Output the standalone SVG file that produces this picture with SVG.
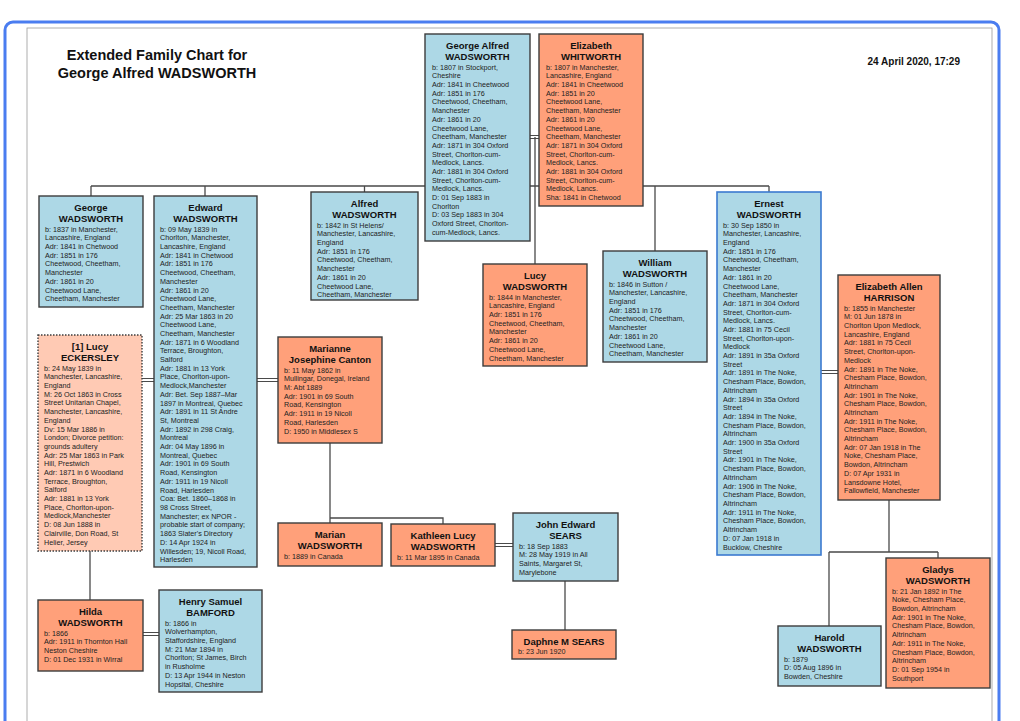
<svg xmlns="http://www.w3.org/2000/svg" width="1020" height="721" viewBox="0 0 1020 721">
<style>
.bx{stroke:#3c3c3c;stroke-width:1.4}
.bl{fill:#add8e6}
.sa{fill:#ffa07a}
.lt{fill:#ffcab4;stroke-dasharray:1.5 1.5}
.sel{stroke:#3b7ad0;stroke-width:1.6}
.n{font-family:"Liberation Sans",Arial,sans-serif;font-size:9.5px;font-weight:bold;fill:#111;text-anchor:middle}
.t{font-family:"Liberation Sans",Arial,sans-serif;font-size:7.2px;fill:#222}
.c{fill:none;stroke:#4a4a4a;stroke-width:1.3}
.m{fill:none;stroke:#4a4a4a;stroke-width:1}
.ti{font-family:"Liberation Sans",Arial,sans-serif;font-size:14.5px;font-weight:bold;fill:#111;text-anchor:middle}
</style>
<rect x="0" y="0" width="1020" height="721" fill="#ffffff"/>
<rect x="5" y="22" width="994" height="720" rx="8" fill="none" stroke="#4a7df0" stroke-width="3"/>
<rect x="27" y="28" width="965" height="720" fill="none" stroke="#9a9a9a" stroke-width="0.8"/>
<g id="title">
<text class="ti" x="157" y="60">Extended Family Chart for</text>
<text class="ti" x="157" y="78">George Alfred WADSWORTH</text>
<text x="960" y="65" style="font-family:'Liberation Sans',Arial,sans-serif;font-size:10px;font-weight:bold;fill:#111" text-anchor="end">24 April 2020, 17:29</text>
</g>
<g id="connectors">
<path class="c" d="M91,186H769M91,186V196M205,186V196M364.5,186V192M535,137V264M655,186V251M769,186V192"/>
<path class="m" d="M530,135.5H539M530,138.5H539"/>
<path class="m" d="M142,378.5H154M142,381.5H154M257,378.5H278M257,381.5H278"/>
<path class="c" d="M90,551V600"/>
<path class="m" d="M143,632.5H159M143,635.5H159"/>
<path class="c" d="M330,443V523M330,518H443V524"/>
<path class="m" d="M495,543.5H513M495,546.5H513"/>
<path class="c" d="M565,581V630"/>
<path class="m" d="M821,370.5H838M821,373.5H838"/>
<path class="c" d="M889,500V552M829,552H938M829,552V626M938,552V558"/>
</g>
<g id="n-george-alfred" transform="translate(425,34)">
<rect class="bx bl" width="105" height="207"/>
<text class="n" x="52.5" y="14.5">George Alfred</text>
<text class="n" x="52.5" y="25.5">WADSWORTH</text>
<text class="t" y="35.6"><tspan x="7" dy="0">b: 1807 in Stockport,</tspan><tspan x="7" dy="8.7">Cheshire</tspan><tspan x="7" dy="8.7">Adr: 1841 in Cheetwood</tspan><tspan x="7" dy="8.7">Adr: 1851 in 176</tspan><tspan x="7" dy="8.7">Cheetwood, Cheetham,</tspan><tspan x="7" dy="8.7">Manchester</tspan><tspan x="7" dy="8.7">Adr: 1861 in 20</tspan><tspan x="7" dy="8.7">Cheetwood Lane,</tspan><tspan x="7" dy="8.7">Cheetham, Manchester</tspan><tspan x="7" dy="8.7">Adr: 1871 in 304 Oxford</tspan><tspan x="7" dy="8.7">Street, Chorlton-cum-</tspan><tspan x="7" dy="8.7">Medlock, Lancs.</tspan><tspan x="7" dy="8.7">Adr: 1881 in 304 Oxford</tspan><tspan x="7" dy="8.7">Street, Chorlton-cum-</tspan><tspan x="7" dy="8.7">Medlock, Lancs.</tspan><tspan x="7" dy="8.7">D: 01 Sep 1883 in</tspan><tspan x="7" dy="8.7">Chorlton</tspan><tspan x="7" dy="8.7">D: 03 Sep 1883 in 304</tspan><tspan x="7" dy="8.7">Oxford Street, Chorlton-</tspan><tspan x="7" dy="8.7">cum-Medlock, Lancs.</tspan></text>
</g>
<g id="n-elizabeth-whitworth" transform="translate(539,34)">
<rect class="bx sa" width="104" height="172"/>
<text class="n" x="52" y="14.5">Elizabeth</text>
<text class="n" x="52" y="25.5">WHITWORTH</text>
<text class="t" y="35.6"><tspan x="7" dy="0">b: 1807 in Manchester,</tspan><tspan x="7" dy="8.7">Lancashire, England</tspan><tspan x="7" dy="8.7">Adr: 1841 in Cheetwood</tspan><tspan x="7" dy="8.7">Adr: 1851 in 20</tspan><tspan x="7" dy="8.7">Cheetwood Lane,</tspan><tspan x="7" dy="8.7">Cheetham, Manchester</tspan><tspan x="7" dy="8.7">Adr: 1861 in 20</tspan><tspan x="7" dy="8.7">Cheetwood Lane,</tspan><tspan x="7" dy="8.7">Cheetham, Manchester</tspan><tspan x="7" dy="8.7">Adr: 1871 in 304 Oxford</tspan><tspan x="7" dy="8.7">Street, Chorlton-cum-</tspan><tspan x="7" dy="8.7">Medlock, Lancs.</tspan><tspan x="7" dy="8.7">Adr: 1881 in 304 Oxford</tspan><tspan x="7" dy="8.7">Street, Chorlton-cum-</tspan><tspan x="7" dy="8.7">Medlock, Lancs.</tspan><tspan x="7" dy="8.7">Sha: 1841 in Chetwood</tspan></text>
</g>
<g id="n-george" transform="translate(39,196)">
<rect class="bx bl" width="104" height="111"/>
<text class="n" x="52" y="14.5">George</text>
<text class="n" x="52" y="25.5">WADSWORTH</text>
<text class="t" y="35.6"><tspan x="6" dy="0">b: 1837 in Manchester,</tspan><tspan x="6" dy="8.7">Lancashire, England</tspan><tspan x="6" dy="8.7">Adr: 1841 in Chetwood</tspan><tspan x="6" dy="8.7">Adr: 1851 in 176</tspan><tspan x="6" dy="8.7">Cheetwood, Cheetham,</tspan><tspan x="6" dy="8.7">Manchester</tspan><tspan x="6" dy="8.7">Adr: 1861 in 20</tspan><tspan x="6" dy="8.7">Cheetwood Lane,</tspan><tspan x="6" dy="8.7">Cheetham, Manchester</tspan></text>
</g>
<g id="n-edward" transform="translate(154,196)">
<rect class="bx bl" width="103" height="371"/>
<text class="n" x="51.5" y="14.5">Edward</text>
<text class="n" x="51.5" y="25.5">WADSWORTH</text>
<text class="t" y="35.6"><tspan x="6" dy="0">b: 09 May 1839 in</tspan><tspan x="6" dy="8.7">Chorlton, Manchester,</tspan><tspan x="6" dy="8.7">Lancashire, England</tspan><tspan x="6" dy="8.7">Adr: 1841 in Chetwood</tspan><tspan x="6" dy="8.7">Adr: 1851 in 176</tspan><tspan x="6" dy="8.7">Cheetwood, Cheetham,</tspan><tspan x="6" dy="8.7">Manchester</tspan><tspan x="6" dy="8.7">Adr: 1861 in 20</tspan><tspan x="6" dy="8.7">Cheetwood Lane,</tspan><tspan x="6" dy="8.7">Cheetham, Manchester</tspan><tspan x="6" dy="8.7">Adr: 25 Mar 1863 in 20</tspan><tspan x="6" dy="8.7">Cheetwood Lane,</tspan><tspan x="6" dy="8.7">Cheetham, Manchester</tspan><tspan x="6" dy="8.7">Adr: 1871 in 6 Woodland</tspan><tspan x="6" dy="8.7">Terrace, Broughton,</tspan><tspan x="6" dy="8.7">Salford</tspan><tspan x="6" dy="8.7">Adr: 1881 in 13 York</tspan><tspan x="6" dy="8.7">Place, Chorlton-upon-</tspan><tspan x="6" dy="8.7">Medlock,Manchester</tspan><tspan x="6" dy="8.7">Adr: Bet. Sep 1887–Mar</tspan><tspan x="6" dy="8.7">1897 in Montreal, Quebec</tspan><tspan x="6" dy="8.7">Adr: 1891 in 11 St Andre</tspan><tspan x="6" dy="8.7">St, Montreal</tspan><tspan x="6" dy="8.7">Adr: 1892 in 298 Craig,</tspan><tspan x="6" dy="8.7">Montreal</tspan><tspan x="6" dy="8.7">Adr: 04 May 1896 in</tspan><tspan x="6" dy="8.7">Montreal, Quebec</tspan><tspan x="6" dy="8.7">Adr: 1901 in 69 South</tspan><tspan x="6" dy="8.7">Road, Kensington</tspan><tspan x="6" dy="8.7">Adr: 1911 in 19 Nicoll</tspan><tspan x="6" dy="8.7">Road, Harlesden</tspan><tspan x="6" dy="8.7">Coa: Bet. 1860–1868 in</tspan><tspan x="6" dy="8.7">98 Cross Street,</tspan><tspan x="6" dy="8.7">Manchester; ex NPOR -</tspan><tspan x="6" dy="8.7">probable start of company;</tspan><tspan x="6" dy="8.7">1863 Slater's Directory</tspan><tspan x="6" dy="8.7">D: 14 Apr 1924 in</tspan><tspan x="6" dy="8.7">Willesden; 19, Nicoll Road,</tspan><tspan x="6" dy="8.7">Harlesden</tspan></text>
</g>
<g id="n-alfred" transform="translate(311,192)">
<rect class="bx bl" width="107" height="108"/>
<text class="n" x="53.5" y="14.5">Alfred</text>
<text class="n" x="53.5" y="25.5">WADSWORTH</text>
<text class="t" y="35.6"><tspan x="6" dy="0">b: 1842 in St Helens/</tspan><tspan x="6" dy="8.7">Manchester, Lancashire,</tspan><tspan x="6" dy="8.7">England</tspan><tspan x="6" dy="8.7">Adr: 1851 in 176</tspan><tspan x="6" dy="8.7">Cheetwood, Cheetham,</tspan><tspan x="6" dy="8.7">Manchester</tspan><tspan x="6" dy="8.7">Adr: 1861 in 20</tspan><tspan x="6" dy="8.7">Cheetwood Lane,</tspan><tspan x="6" dy="8.7">Cheetham, Manchester</tspan></text>
</g>
<g id="n-lucy" transform="translate(483,264)">
<rect class="bx sa" width="104" height="102"/>
<text class="n" x="52" y="14.5">Lucy</text>
<text class="n" x="52" y="25.5">WADSWORTH</text>
<text class="t" y="35.6"><tspan x="6" dy="0">b: 1844 in Manchester,</tspan><tspan x="6" dy="8.7">Lancashire, England</tspan><tspan x="6" dy="8.7">Adr: 1851 in 176</tspan><tspan x="6" dy="8.7">Cheetwood, Cheetham,</tspan><tspan x="6" dy="8.7">Manchester</tspan><tspan x="6" dy="8.7">Adr: 1861 in 20</tspan><tspan x="6" dy="8.7">Cheetwood Lane,</tspan><tspan x="6" dy="8.7">Cheetham, Manchester</tspan></text>
</g>
<g id="n-william" transform="translate(603,251)">
<rect class="bx bl" width="104" height="111"/>
<text class="n" x="52" y="14.5">William</text>
<text class="n" x="52" y="25.5">WADSWORTH</text>
<text class="t" y="35.6"><tspan x="6" dy="0">b: 1846 in Sutton /</tspan><tspan x="6" dy="8.7">Manchester, Lancashire,</tspan><tspan x="6" dy="8.7">England</tspan><tspan x="6" dy="8.7">Adr: 1851 in 176</tspan><tspan x="6" dy="8.7">Cheetwood, Cheetham,</tspan><tspan x="6" dy="8.7">Manchester</tspan><tspan x="6" dy="8.7">Adr: 1861 in 20</tspan><tspan x="6" dy="8.7">Cheetwood Lane,</tspan><tspan x="6" dy="8.7">Cheetham, Manchester</tspan></text>
</g>
<g id="n-ernest" transform="translate(717,192)">
<rect class="bx bl sel" width="104" height="363"/>
<text class="n" x="52" y="14.5">Ernest</text>
<text class="n" x="52" y="25.5">WADSWORTH</text>
<text class="t" y="35.6"><tspan x="6" dy="0">b: 30 Sep 1850 in</tspan><tspan x="6" dy="8.7">Manchester, Lancashire,</tspan><tspan x="6" dy="8.7">England</tspan><tspan x="6" dy="8.7">Adr: 1851 in 176</tspan><tspan x="6" dy="8.7">Cheetwood, Cheetham,</tspan><tspan x="6" dy="8.7">Manchester</tspan><tspan x="6" dy="8.7">Adr: 1861 in 20</tspan><tspan x="6" dy="8.7">Cheetwood Lane,</tspan><tspan x="6" dy="8.7">Cheetham, Manchester</tspan><tspan x="6" dy="8.7">Adr: 1871 in 304 Oxford</tspan><tspan x="6" dy="8.7">Street, Chorlton-cum-</tspan><tspan x="6" dy="8.7">Medlock, Lancs.</tspan><tspan x="6" dy="8.7">Adr: 1881 in 75 Cecil</tspan><tspan x="6" dy="8.7">Street, Chorlton-upon-</tspan><tspan x="6" dy="8.7">Medlock</tspan><tspan x="6" dy="8.7">Adr: 1891 in 35a Oxford</tspan><tspan x="6" dy="8.7">Street</tspan><tspan x="6" dy="8.7">Adr: 1891 in The Noke,</tspan><tspan x="6" dy="8.7">Chesham Place, Bowdon,</tspan><tspan x="6" dy="8.7">Altrincham</tspan><tspan x="6" dy="8.7">Adr: 1894 in 35a Oxford</tspan><tspan x="6" dy="8.7">Street</tspan><tspan x="6" dy="8.7">Adr: 1894 in The Noke,</tspan><tspan x="6" dy="8.7">Chesham Place, Bowdon,</tspan><tspan x="6" dy="8.7">Altrincham</tspan><tspan x="6" dy="8.7">Adr: 1900 in 35a Oxford</tspan><tspan x="6" dy="8.7">Street</tspan><tspan x="6" dy="8.7">Adr: 1901 in The Noke,</tspan><tspan x="6" dy="8.7">Chesham Place, Bowdon,</tspan><tspan x="6" dy="8.7">Altrincham</tspan><tspan x="6" dy="8.7">Adr: 1906 in The Noke,</tspan><tspan x="6" dy="8.7">Chesham Place, Bowdon,</tspan><tspan x="6" dy="8.7">Altrincham</tspan><tspan x="6" dy="8.7">Adr: 1911 in The Noke,</tspan><tspan x="6" dy="8.7">Chesham Place, Bowdon,</tspan><tspan x="6" dy="8.7">Altrincham</tspan><tspan x="6" dy="8.7">D: 07 Jan 1918 in</tspan><tspan x="6" dy="8.7">Bucklow, Cheshire</tspan></text>
</g>
<g id="n-elizabeth-harrison" transform="translate(838,275)">
<rect class="bx sa" width="102" height="225"/>
<text class="n" x="51" y="14.5">Elizabeth Allen</text>
<text class="n" x="51" y="25.5">HARRISON</text>
<text class="t" y="35.6"><tspan x="6" dy="0">b: 1855 in Manchester</tspan><tspan x="6" dy="8.7">M: 01 Jun 1878 in</tspan><tspan x="6" dy="8.7">Chorlton Upon Medlock,</tspan><tspan x="6" dy="8.7">Lancashire, England</tspan><tspan x="6" dy="8.7">Adr: 1881 in 75 Cecil</tspan><tspan x="6" dy="8.7">Street, Chorlton-upon-</tspan><tspan x="6" dy="8.7">Medlock</tspan><tspan x="6" dy="8.7">Adr: 1891 in The Noke,</tspan><tspan x="6" dy="8.7">Chesham Place, Bowdon,</tspan><tspan x="6" dy="8.7">Altrincham</tspan><tspan x="6" dy="8.7">Adr: 1901 in The Noke,</tspan><tspan x="6" dy="8.7">Chesham Place, Bowdon,</tspan><tspan x="6" dy="8.7">Altrincham</tspan><tspan x="6" dy="8.7">Adr: 1911 in The Noke,</tspan><tspan x="6" dy="8.7">Chesham Place, Bowdon,</tspan><tspan x="6" dy="8.7">Altrincham</tspan><tspan x="6" dy="8.7">Adr: 07 Jan 1918 in The</tspan><tspan x="6" dy="8.7">Noke, Chesham Place,</tspan><tspan x="6" dy="8.7">Bowdon, Altrincham</tspan><tspan x="6" dy="8.7">D: 07 Apr 1931 in</tspan><tspan x="6" dy="8.7">Lansdowne Hotel,</tspan><tspan x="6" dy="8.7">Fallowfield, Manchester</tspan></text>
</g>
<g id="n-lucy-eckersley" transform="translate(38,335)">
<rect class="bx lt" width="104" height="216"/>
<text class="n" x="52" y="14.5">[1] Lucy</text>
<text class="n" x="52" y="25.5">ECKERSLEY</text>
<text class="t" y="35.6"><tspan x="6" dy="0">b: 24 May 1839 in</tspan><tspan x="6" dy="8.7">Manchester, Lancashire,</tspan><tspan x="6" dy="8.7">England</tspan><tspan x="6" dy="8.7">M: 26 Oct 1863 in Cross</tspan><tspan x="6" dy="8.7">Street Unitarian Chapel,</tspan><tspan x="6" dy="8.7">Manchester, Lancashire,</tspan><tspan x="6" dy="8.7">England</tspan><tspan x="6" dy="8.7">Dv: 15 Mar 1886 in</tspan><tspan x="6" dy="8.7">London; Divorce petition:</tspan><tspan x="6" dy="8.7">grounds adultery</tspan><tspan x="6" dy="8.7">Adr: 25 Mar 1863 in Park</tspan><tspan x="6" dy="8.7">Hill, Prestwich</tspan><tspan x="6" dy="8.7">Adr: 1871 in 6 Woodland</tspan><tspan x="6" dy="8.7">Terrace, Broughton,</tspan><tspan x="6" dy="8.7">Salford</tspan><tspan x="6" dy="8.7">Adr: 1881 in 13 York</tspan><tspan x="6" dy="8.7">Place, Chorlton-upon-</tspan><tspan x="6" dy="8.7">Medlock,Manchester</tspan><tspan x="6" dy="8.7">D: 08 Jun 1888 in</tspan><tspan x="6" dy="8.7">Clairville, Don Road, St</tspan><tspan x="6" dy="8.7">Helier, Jersey</tspan></text>
</g>
<g id="n-marianne" transform="translate(278,337)">
<rect class="bx sa" width="104" height="106"/>
<text class="n" x="52" y="14.5">Marianne</text>
<text class="n" x="52" y="25.5">Josephine Canton</text>
<text class="t" y="35.6"><tspan x="6" dy="0">b: 11 May 1862 in</tspan><tspan x="6" dy="8.7">Mullingar, Donegal, Ireland</tspan><tspan x="6" dy="8.7">M: Abt 1889</tspan><tspan x="6" dy="8.7">Adr: 1901 in 69 South</tspan><tspan x="6" dy="8.7">Road, Kensington</tspan><tspan x="6" dy="8.7">Adr: 1911 in 19 Nicoll</tspan><tspan x="6" dy="8.7">Road, Harlesden</tspan><tspan x="6" dy="8.7">D: 1950 in Middlesex S</tspan></text>
</g>
<g id="n-marian" transform="translate(278,523)">
<rect class="bx sa" width="104" height="43"/>
<text class="n" x="52" y="14.5">Marian</text>
<text class="n" x="52" y="25.5">WADSWORTH</text>
<text class="t" x="6" y="35.6">b: 1889 in Canada</text>
</g>
<g id="n-kathleen" transform="translate(391,524)">
<rect class="bx sa" width="104" height="42"/>
<text class="n" x="52" y="14.5">Kathleen Lucy</text>
<text class="n" x="52" y="25.5">WADSWORTH</text>
<text class="t" x="6" y="35.6">b: 11 Mar 1895 in Canada</text>
</g>
<g id="n-john-sears" transform="translate(513,513)">
<rect class="bx bl" width="105" height="68"/>
<text class="n" x="52.5" y="14.5">John Edward</text>
<text class="n" x="52.5" y="25.5">SEARS</text>
<text class="t" y="35.6"><tspan x="6" dy="0">b: 18 Sep 1883</tspan><tspan x="6" dy="8.7">M: 28 May 1919 in All</tspan><tspan x="6" dy="8.7">Saints, Margaret St,</tspan><tspan x="6" dy="8.7">Marylebone</tspan></text>
</g>
<g id="n-daphne" transform="translate(512,630)">
<rect class="bx sa" width="104" height="29"/>
<text class="n" x="52" y="14.5">Daphne M SEARS</text>
<text class="t" x="6" y="24.3">b: 23 Jun 1920</text>
</g>
<g id="n-hilda" transform="translate(38,600)">
<rect class="bx sa" width="105" height="71"/>
<text class="n" x="52.5" y="14.5">Hilda</text>
<text class="n" x="52.5" y="25.5">WADSWORTH</text>
<text class="t" y="35.6"><tspan x="6" dy="0">b: 1866</tspan><tspan x="6" dy="8.7">Adr: 1911 in Thornton Hall</tspan><tspan x="6" dy="8.7">Neston Cheshire</tspan><tspan x="6" dy="8.7">D: 01 Dec 1931 in Wirral</tspan></text>
</g>
<g id="n-henry" transform="translate(159,590)">
<rect class="bx bl" width="103" height="102"/>
<text class="n" x="51.5" y="14.5">Henry Samuel</text>
<text class="n" x="51.5" y="25.5">BAMFORD</text>
<text class="t" y="35.6"><tspan x="6" dy="0">b: 1866 in</tspan><tspan x="6" dy="8.7">Wolverhampton,</tspan><tspan x="6" dy="8.7">Staffordshire, England</tspan><tspan x="6" dy="8.7">M: 21 Mar 1894 in</tspan><tspan x="6" dy="8.7">Chorlton; St James, Birch</tspan><tspan x="6" dy="8.7">in Rusholme</tspan><tspan x="6" dy="8.7">D: 13 Apr 1944 in Neston</tspan><tspan x="6" dy="8.7">Hopsital, Cheshire</tspan></text>
</g>
<g id="n-harold" transform="translate(778,626)">
<rect class="bx bl" width="103" height="60"/>
<text class="n" x="51.5" y="14.5">Harold</text>
<text class="n" x="51.5" y="25.5">WADSWORTH</text>
<text class="t" y="35.6"><tspan x="6" dy="0">b: 1879</tspan><tspan x="6" dy="8.7">D: 05 Aug 1896 in</tspan><tspan x="6" dy="8.7">Bowden, Cheshire</tspan></text>
</g>
<g id="n-gladys" transform="translate(886,558)">
<rect class="bx sa" width="104" height="130"/>
<text class="n" x="52" y="14.5">Gladys</text>
<text class="n" x="52" y="25.5">WADSWORTH</text>
<text class="t" y="35.6"><tspan x="6" dy="0">b: 21 Jan 1892 in The</tspan><tspan x="6" dy="8.7">Noke, Chesham Place,</tspan><tspan x="6" dy="8.7">Bowdon, Altrincham</tspan><tspan x="6" dy="8.7">Adr: 1901 in The Noke,</tspan><tspan x="6" dy="8.7">Chesham Place, Bowdon,</tspan><tspan x="6" dy="8.7">Altrincham</tspan><tspan x="6" dy="8.7">Adr: 1911 in The Noke,</tspan><tspan x="6" dy="8.7">Chesham Place, Bowdon,</tspan><tspan x="6" dy="8.7">Altrincham</tspan><tspan x="6" dy="8.7">D: 01 Sep 1954 in</tspan><tspan x="6" dy="8.7">Southport</tspan></text>
</g>
</svg>
